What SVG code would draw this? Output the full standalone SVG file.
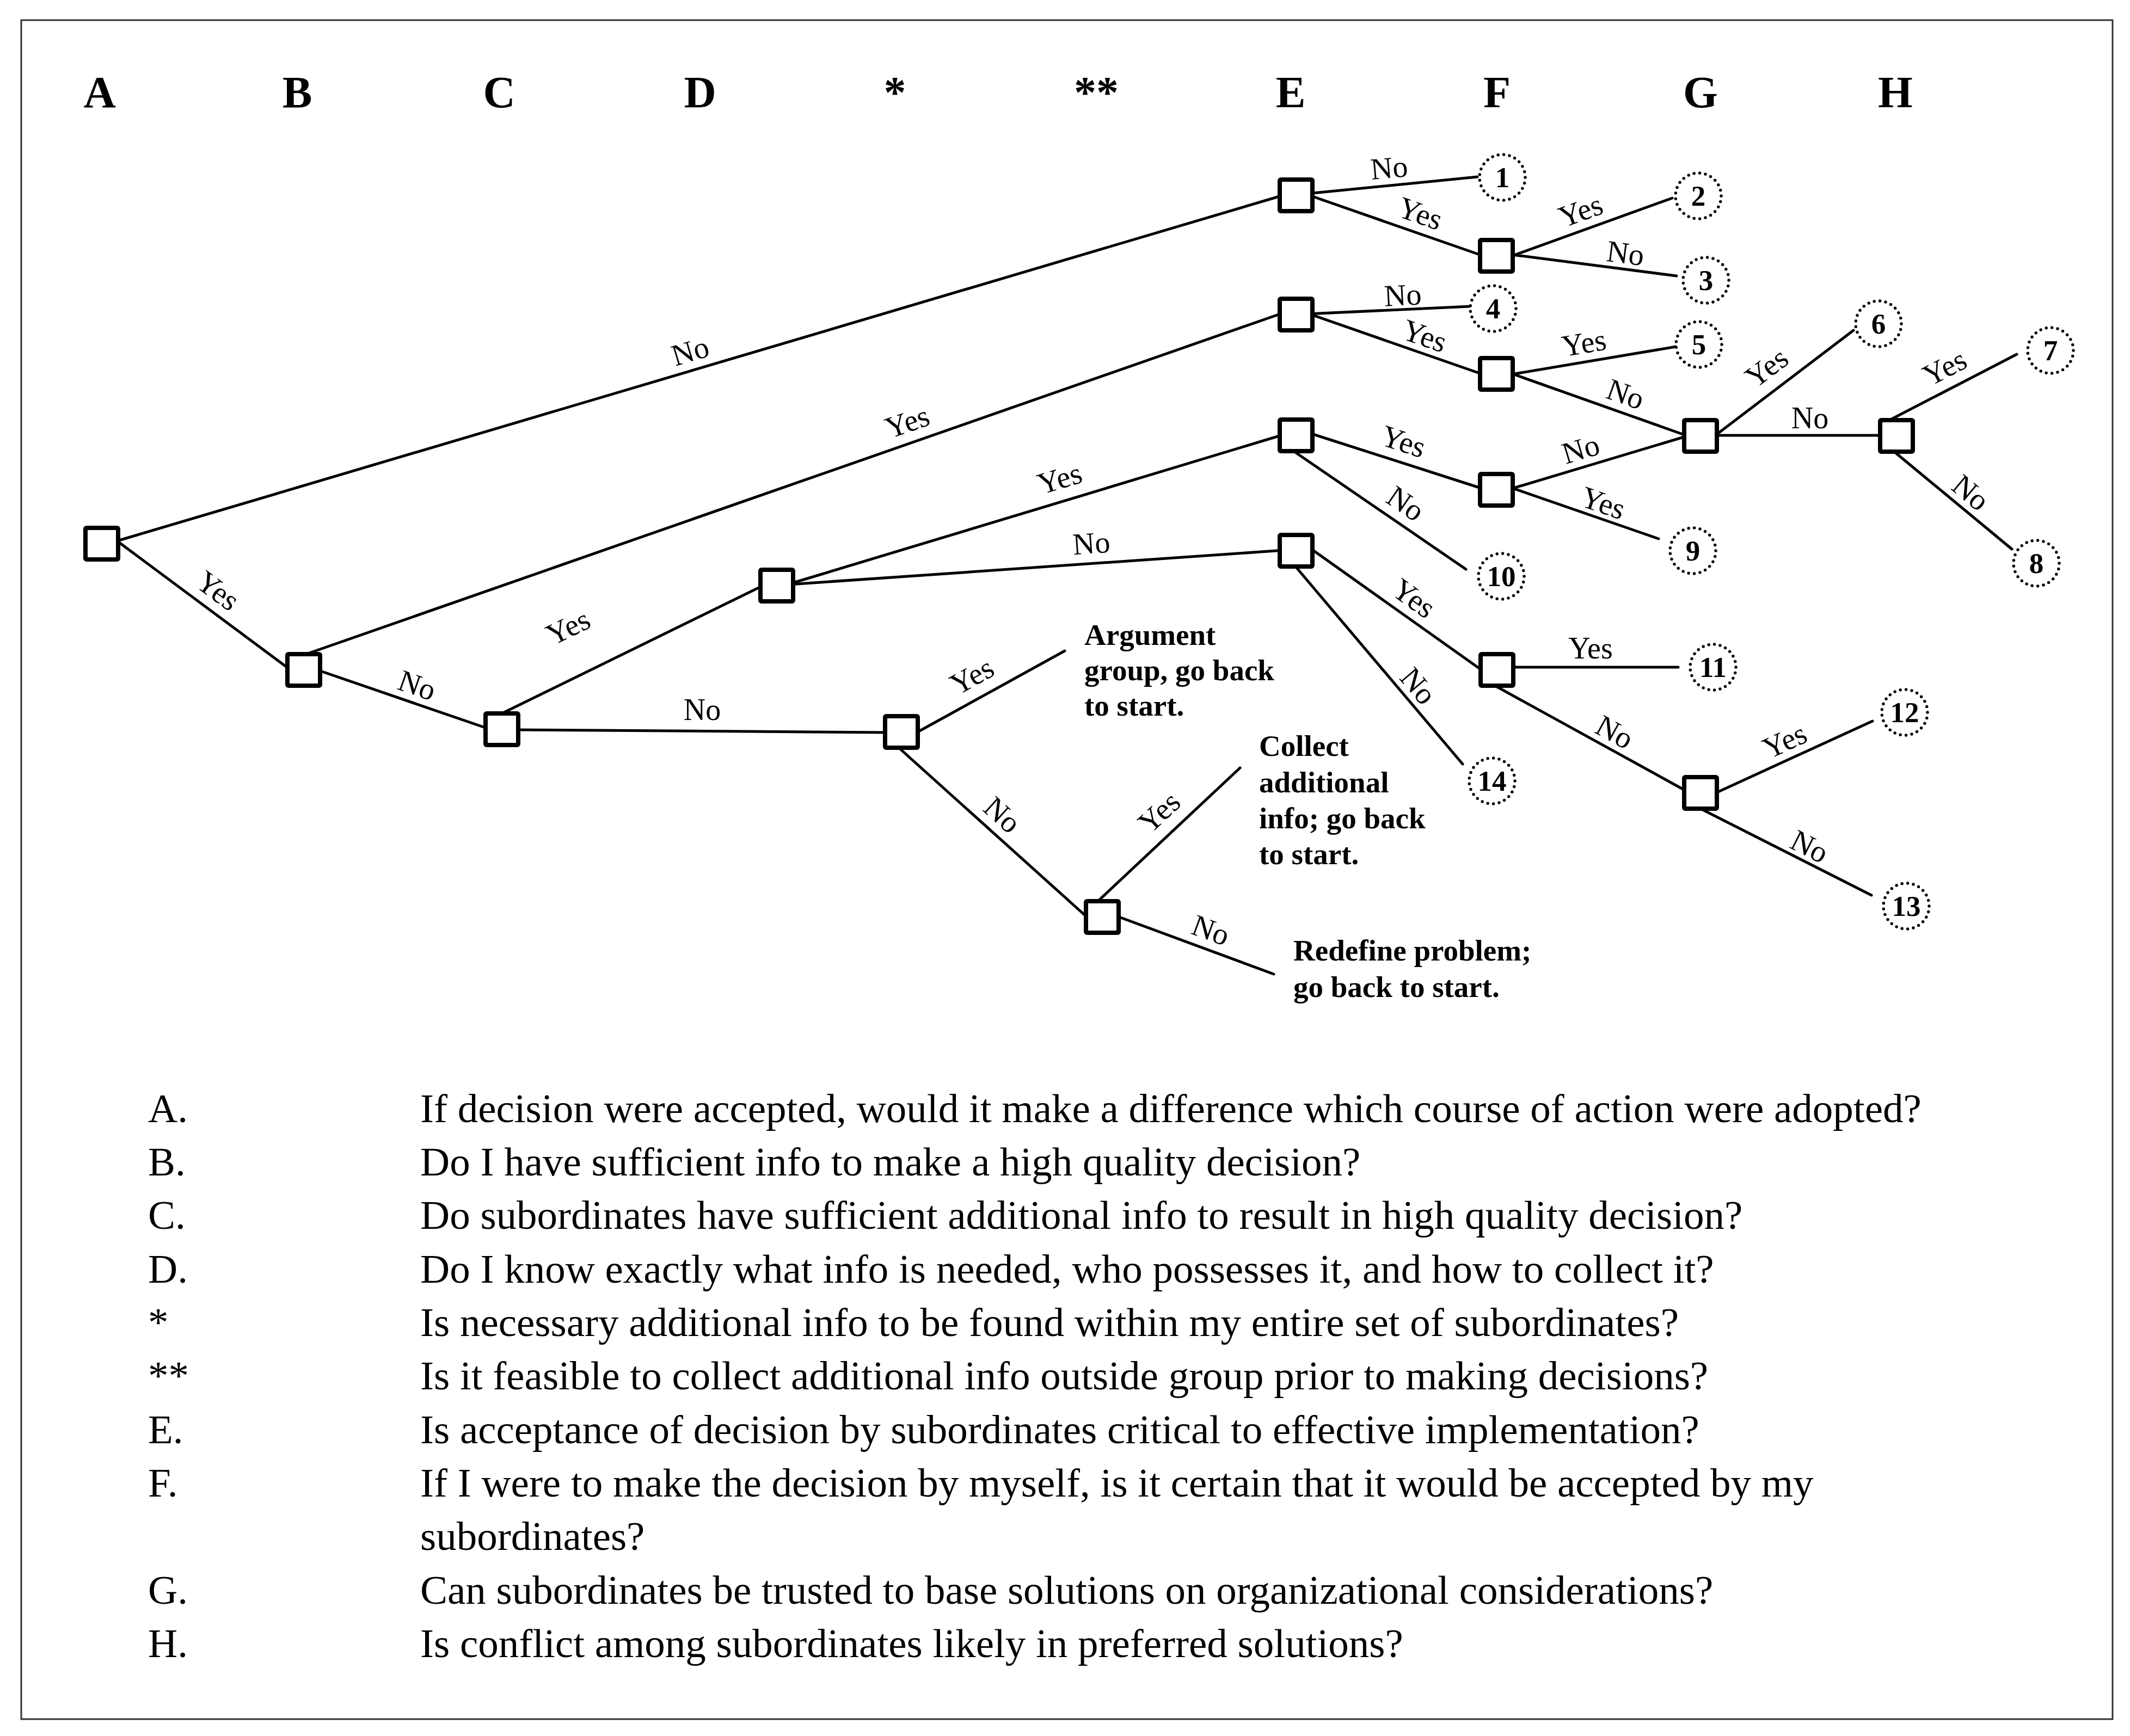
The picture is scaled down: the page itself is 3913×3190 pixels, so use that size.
<svg xmlns="http://www.w3.org/2000/svg" width="3913" height="3190" viewBox="0 0 3913 3190">
<style>
  text { font-family: "Liberation Serif", "Times New Roman", serif; fill: #000; }
  .hdr { font-size: 82px; font-weight: bold; text-anchor: middle; }
  .lbl { font-size: 56px; text-anchor: middle; }
  .num { font-size: 53px; font-weight: bold; text-anchor: middle; }
  .out { font-size: 55px; font-weight: bold; }
  .leg { font-size: 75px; }
  .edge line { stroke: #000; stroke-width: 5; stroke-linecap: round; }
  .dec rect { fill: #fff; stroke: #000; stroke-width: 8; }
  .term circle { fill: #fff; stroke: #000; stroke-width: 5.5; stroke-linecap: round; stroke-dasharray: 0 1; }
</style>
<rect x="39" y="37" width="3842" height="3122" fill="#fff" stroke="#333" stroke-width="3"/>

<g id="headers">
  <text class="hdr" x="183" y="197">A</text>
  <text class="hdr" x="546" y="197">B</text>
  <text class="hdr" x="917" y="197">C</text>
  <text class="hdr" x="1286" y="197">D</text>
  <text class="hdr" x="1644" y="197">*</text>
  <text class="hdr" x="2014" y="197">**</text>
  <text class="hdr" x="2371" y="197">E</text>
  <text class="hdr" x="2750" y="197">F</text>
  <text class="hdr" x="3124" y="197">G</text>
  <text class="hdr" x="3482" y="197">H</text>
</g>

<g id="connectors">
  <g class="edge"><line x1="215" y1="994" x2="2360" y2="358"/><text class="lbl" transform="translate(1268,646) rotate(-16.7)" y="18">No</text></g>
  <g class="edge"><line x1="215" y1="994" x2="535" y2="1232"/><text class="lbl" transform="translate(400,1086) rotate(36.6)" y="18">Yes</text></g>
  <g class="edge"><line x1="568" y1="1200" x2="2360" y2="574"/><text class="lbl" transform="translate(1667,776) rotate(-19)" y="18">Yes</text></g>
  <g class="edge"><line x1="580" y1="1230" x2="900" y2="1340"/><text class="lbl" transform="translate(766,1260) rotate(19.3)" y="18">No</text></g>
  <g class="edge"><line x1="924" y1="1310" x2="1410" y2="1072"/><text class="lbl" transform="translate(1044,1153) rotate(-26)" y="18">Yes</text></g>
  <g class="edge"><line x1="945" y1="1341" x2="1635" y2="1346"/><text class="lbl" transform="translate(1290,1305)" y="18">No</text></g>
  <g class="edge"><line x1="1450" y1="1073" x2="2360" y2="798"/><text class="lbl" transform="translate(1947,880) rotate(-17)" y="18">Yes</text></g>
  <g class="edge"><line x1="1450" y1="1074" x2="2360" y2="1011"/><text class="lbl" transform="translate(2005,999) rotate(-4)" y="18">No</text></g>
  <g class="edge"><line x1="1675" y1="1351" x2="1956" y2="1196"/><text class="lbl" transform="translate(1786,1243) rotate(-29)" y="18">Yes</text></g>
  <g class="edge"><line x1="1650" y1="1373" x2="2000" y2="1688"/><text class="lbl" transform="translate(1841,1498) rotate(42)" y="18">No</text></g>
  <g class="edge"><line x1="2018" y1="1655" x2="2278" y2="1411"/><text class="lbl" transform="translate(2130,1493) rotate(-43)" y="18">Yes</text></g>
  <g class="edge"><line x1="2045" y1="1681" x2="2340" y2="1790"/><text class="lbl" transform="translate(2224,1710) rotate(20)" y="18">No</text></g>
  <g class="edge"><line x1="2400" y1="356" x2="2714" y2="325"/><text class="lbl" transform="translate(2552,309) rotate(-5)" y="18">No</text></g>
  <g class="edge"><line x1="2400" y1="357" x2="2730" y2="472"/><text class="lbl" transform="translate(2609,393) rotate(19.4)" y="18">Yes</text></g>
  <g class="edge"><line x1="2770" y1="473" x2="3072" y2="364"/><text class="lbl" transform="translate(2904,388) rotate(-20)" y="18">Yes</text></g>
  <g class="edge"><line x1="2770" y1="467" x2="3080" y2="507"/><text class="lbl" transform="translate(2986,466) rotate(7.3)" y="18">No</text></g>
  <g class="edge"><line x1="2400" y1="577" x2="2700" y2="563"/><text class="lbl" transform="translate(2577,543) rotate(-3)" y="18">No</text></g>
  <g class="edge"><line x1="2400" y1="575" x2="2730" y2="690"/><text class="lbl" transform="translate(2617,618) rotate(19.2)" y="18">Yes</text></g>
  <g class="edge"><line x1="2770" y1="689" x2="3079" y2="637"/><text class="lbl" transform="translate(2910,631) rotate(-9.6)" y="18">Yes</text></g>
  <g class="edge"><line x1="2770" y1="684" x2="3100" y2="801"/><text class="lbl" transform="translate(2986,725) rotate(19.5)" y="18">No</text></g>
  <g class="edge"><line x1="2400" y1="794" x2="2730" y2="900"/><text class="lbl" transform="translate(2578,812) rotate(18.2)" y="18">Yes</text></g>
  <g class="edge"><line x1="2378" y1="830" x2="2693" y2="1046"/><text class="lbl" transform="translate(2582,926) rotate(34.3)" y="18">No</text></g>
  <g class="edge"><line x1="2770" y1="900" x2="3100" y2="801"/><text class="lbl" transform="translate(2904,826) rotate(-16.7)" y="18">No</text></g>
  <g class="edge"><line x1="2770" y1="894" x2="3047" y2="990"/><text class="lbl" transform="translate(2945,925) rotate(19)" y="18">Yes</text></g>
  <g class="edge"><line x1="3150" y1="801" x2="3405" y2="607"/><text class="lbl" transform="translate(3246,676) rotate(-37)" y="18">Yes</text></g>
  <g class="edge"><line x1="3140" y1="800" x2="3470" y2="800"/><text class="lbl" transform="translate(3325,769)" y="18">No</text></g>
  <g class="edge"><line x1="3475" y1="770" x2="3705" y2="651"/><text class="lbl" transform="translate(3573,676) rotate(-27.3)" y="18">Yes</text></g>
  <g class="edge"><line x1="3475" y1="826" x2="3696" y2="1009"/><text class="lbl" transform="translate(3620,906) rotate(39.6)" y="18">No</text></g>
  <g class="edge"><line x1="2405" y1="1006" x2="2730" y2="1237"/><text class="lbl" transform="translate(2597,1100) rotate(35.4)" y="18">Yes</text></g>
  <g class="edge"><line x1="2380" y1="1041" x2="2687" y2="1404"/><text class="lbl" transform="translate(2605,1261) rotate(49.8)" y="18">No</text></g>
  <g class="edge"><line x1="2770" y1="1226" x2="3083" y2="1226"/><text class="lbl" transform="translate(2922,1192)" y="18">Yes</text></g>
  <g class="edge"><line x1="2750" y1="1262" x2="3095" y2="1452"/><text class="lbl" transform="translate(2966,1346) rotate(28.7)" y="18">No</text></g>
  <g class="edge"><line x1="3150" y1="1458" x2="3440" y2="1325"/><text class="lbl" transform="translate(3279,1362) rotate(-24.8)" y="18">Yes</text></g>
  <g class="edge"><line x1="3128" y1="1488" x2="3438" y2="1645"/><text class="lbl" transform="translate(3324,1556) rotate(26.7)" y="18">No</text></g>
</g>

<g id="nodeA" class="dec"><rect x="157" y="970" width="60" height="58" rx="2"/></g>
<g id="nodeB" class="dec"><rect x="528" y="1202" width="60" height="58" rx="2"/></g>
<g id="nodeC" class="dec"><rect x="892" y="1311" width="60" height="58" rx="2"/></g>
<g id="nodeD" class="dec"><rect x="1397" y="1047" width="60" height="58" rx="2"/></g>
<g id="nodeStar" class="dec"><rect x="1626" y="1316" width="60" height="58" rx="2"/></g>
<g id="nodeStar2" class="dec"><rect x="1995" y="1656" width="60" height="58" rx="2"/></g>
<g id="nodeE1" class="dec"><rect x="2351" y="330" width="60" height="58" rx="2"/></g>
<g id="nodeE2" class="dec"><rect x="2351" y="549" width="60" height="58" rx="2"/></g>
<g id="nodeE3" class="dec"><rect x="2351" y="771" width="60" height="58" rx="2"/></g>
<g id="nodeE4" class="dec"><rect x="2351" y="983" width="60" height="58" rx="2"/></g>
<g id="nodeF1" class="dec"><rect x="2719" y="441" width="60" height="58" rx="2"/></g>
<g id="nodeF2" class="dec"><rect x="2719" y="658" width="60" height="58" rx="2"/></g>
<g id="nodeF3" class="dec"><rect x="2719" y="871" width="60" height="58" rx="2"/></g>
<g id="nodeF4" class="dec"><rect x="2720" y="1202" width="60" height="58" rx="2"/></g>
<g id="nodeG1" class="dec"><rect x="3094" y="772" width="60" height="58" rx="2"/></g>
<g id="nodeG2" class="dec"><rect x="3094" y="1428" width="60" height="58" rx="2"/></g>
<g id="nodeH1" class="dec"><rect x="3454" y="772" width="60" height="58" rx="2"/></g>

<g id="out1" class="term"><circle cx="2760" cy="326" r="42" pathLength="25"/><text class="num" x="2760" y="344">1</text></g>
<g id="out2" class="term"><circle cx="3120" cy="360" r="42" pathLength="25"/><text class="num" x="3120" y="378">2</text></g>
<g id="out3" class="term"><circle cx="3134" cy="515" r="42" pathLength="25"/><text class="num" x="3134" y="533">3</text></g>
<g id="out4" class="term"><circle cx="2743" cy="567" r="42" pathLength="25"/><text class="num" x="2743" y="585">4</text></g>
<g id="out5" class="term"><circle cx="3121" cy="633" r="42" pathLength="25"/><text class="num" x="3121" y="651">5</text></g>
<g id="out6" class="term"><circle cx="3451" cy="595" r="42" pathLength="25"/><text class="num" x="3451" y="613">6</text></g>
<g id="out7" class="term"><circle cx="3767" cy="644" r="42" pathLength="25"/><text class="num" x="3767" y="662">7</text></g>
<g id="out8" class="term"><circle cx="3741" cy="1035" r="42" pathLength="25"/><text class="num" x="3741" y="1053">8</text></g>
<g id="out9" class="term"><circle cx="3110" cy="1012" r="42" pathLength="25"/><text class="num" x="3110" y="1030">9</text></g>
<g id="out10" class="term"><circle cx="2758" cy="1059" r="42" pathLength="25"/><text class="num" x="2758" y="1077">10</text></g>
<g id="out11" class="term"><circle cx="3147" cy="1226" r="42" pathLength="25"/><text class="num" x="3147" y="1244">11</text></g>
<g id="out12" class="term"><circle cx="3499" cy="1309" r="42" pathLength="25"/><text class="num" x="3499" y="1327">12</text></g>
<g id="out13" class="term"><circle cx="3502" cy="1665" r="42" pathLength="25"/><text class="num" x="3502" y="1683">13</text></g>
<g id="out14" class="term"><circle cx="2741" cy="1435" r="42" pathLength="25"/><text class="num" x="2741" y="1453">14</text></g>

<g id="outArgument">
  <text class="out" x="1992" y="1185">Argument</text>
  <text class="out" x="1992" y="1250">group, go back</text>
  <text class="out" x="1992" y="1315">to start.</text>
</g>
<g id="outCollect">
  <text class="out" x="2313" y="1389">Collect</text>
  <text class="out" x="2313" y="1456">additional</text>
  <text class="out" x="2313" y="1522">info; go back</text>
  <text class="out" x="2313" y="1588">to start.</text>
</g>
<g id="outRedefine">
  <text class="out" x="2376" y="1765">Redefine problem;</text>
  <text class="out" x="2376" y="1832">go back to start.</text>
</g>

<g id="legend">
  <text class="leg" x="272" y="2062">A.</text><text class="leg" x="772" y="2062">If decision were accepted, would it make a difference which course of action were adopted?</text>
  <text class="leg" x="272" y="2160">B.</text><text class="leg" x="772" y="2160">Do I have sufficient info to make a high quality decision?</text>
  <text class="leg" x="272" y="2258">C.</text><text class="leg" x="772" y="2258">Do subordinates have sufficient additional info to result in high quality decision?</text>
  <text class="leg" x="272" y="2357">D.</text><text class="leg" x="772" y="2357">Do I know exactly  what info is needed, who possesses it, and how to collect it?</text>
  <text class="leg" x="272" y="2455">*</text><text class="leg" x="772" y="2455">Is necessary additional info to be found within my entire set of subordinates?</text>
  <text class="leg" x="272" y="2553">**</text><text class="leg" x="772" y="2553">Is it feasible to collect additional info outside group prior to making decisions?</text>
  <text class="leg" x="272" y="2652">E.</text><text class="leg" x="772" y="2652">Is acceptance of decision by subordinates critical to effective implementation?</text>
  <text class="leg" x="272" y="2750">F.</text><text class="leg" x="772" y="2750">If I were to make the decision by myself, is it certain that it would be accepted by my</text>
  <text class="leg" x="772" y="2848">subordinates?</text>
  <text class="leg" x="272" y="2947">G.</text><text class="leg" x="772" y="2947">Can subordinates be trusted to base solutions on organizational considerations?</text>
  <text class="leg" x="272" y="3045">H.</text><text class="leg" x="772" y="3045">Is conflict among subordinates likely in preferred solutions?</text>
</g>
</svg>
